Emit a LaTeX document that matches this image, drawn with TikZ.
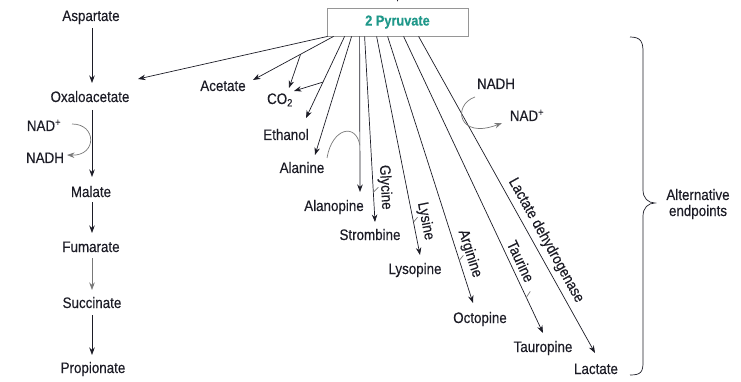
\documentclass[tikz,border=0pt]{standalone}
\usepackage{fontspec}
\setmainfont{Liberation Sans}[FakeStretch=0.88, FakeBold=0.3]
\usetikzlibrary{arrows.meta,calc}
\definecolor{txt}{RGB}{28,28,38}
\definecolor{teal2}{RGB}{32,152,138}
\definecolor{boxgray}{RGB}{150,150,150}
\definecolor{lgray}{RGB}{120,120,120}
\begin{document}
\begin{tikzpicture}[x=1pt,y=-1pt,
  lbl/.style={font=\fontsize{15.2}{18}\selectfont, text=txt, inner sep=0pt, anchor=base},
  rlbl/.style={font=\fontsize{15.2}{18}\selectfont, text=txt, inner sep=0pt, sloped, above=4.5pt},
  arr/.style={draw=txt, line width=0.7pt, -{Stealth[length=7.5pt,width=5.5pt]}},
  garr/.style={arr, draw=lgray},
  gline/.style={draw=lgray, line width=0.7pt},
  ln/.style={draw=txt, line width=0.7pt}]
\useasboundingbox (0,0) rectangle (741,382);

% left column
\node[lbl] (asp) at (91,21) {Aspartate};
\node[lbl] (oxa) at (90,102) {Oxaloacetate};
\node[lbl] (nadpL) at (44,131) {NAD\textsuperscript{+}};
\node[lbl] (nadhL) at (45,163) {NADH};
\node[lbl] (mal) at (91,197) {Malate};
\node[lbl] (fum) at (91,252) {Fumarate};
\node[lbl] (suc) at (92,308) {Succinate};
\node[lbl] (pro) at (93,373) {Propionate};

\draw[arr] ($(asp.base)+(1,7)$) -- ($(oxa.base)+(2,-19)$);
\draw[arr] ($(oxa.base)+(2,8)$) -- ($(mal.base)+(1,-20)$);
\draw[arr] ($(mal.base)+(1,5)$) -- ($(fum.base)+(1,-19)$);
\draw[garr] ($(fum.base)+(1,6)$) -- ($(suc.base)+(0,-18)$);
\draw[arr] ($(suc.base)+(0,7)$) -- ($(pro.base)+(-1,-18)$);
\draw[garr] ($(nadpL.base)+(28,-7)$) .. controls +(25,0) and +(30,1) .. ($(nadhL.base)+(22,-8)$);

% pyruvate box
\node[draw=boxgray, line width=0.8pt, minimum width=141pt, minimum height=28pt, inner sep=0pt,
      font=\fontsize{14.5}{16}\selectfont\bfseries, text=teal2] (pyr) at (397.5,22) {2 Pyruvate};
\coordinate (topin) at (397.5,-14);
\draw[arr] (topin) -- ($(pyr.north)+(0,-6)$);

\coordinate (s0) at ($(pyr.south west)+(1,0)$);
\coordinate (s1) at ($(pyr.south west)+(7,0)$);
\coordinate (s2) at ($(pyr.south west)+(18,0)$);
\coordinate (s3) at ($(pyr.south west)+(25,0)$);
\coordinate (s4) at ($(pyr.south west)+(33,0)$);
\coordinate (s5) at ($(pyr.south west)+(38,0)$);
\coordinate (s6) at ($(pyr.south west)+(50,0)$);
\coordinate (s7) at ($(pyr.south west)+(61,0)$);
\coordinate (s8) at ($(pyr.south west)+(77,0)$);
\coordinate (s9) at ($(pyr.south west)+(92,0)$);

% endpoints
\node[lbl] (ace) at (223,91) {Acetate};
\node[lbl] (co2) at (280,104) {CO\textsubscript{2}};
\node[lbl] (eth) at (286,140) {Ethanol};
\node[lbl] (ala) at (302,173) {Alanine};
\node[lbl] (alp) at (334,211) {Alanopine};
\node[lbl] (str) at (370,240) {Strombine};
\node[lbl] (lys) at (415,274) {Lysopine};
\node[lbl] (oct) at (480,323) {Octopine};
\node[lbl] (tau) at (543,352) {Tauropine};
\node[lbl] (lac) at (596,374) {Lactate};
\node[lbl] (nadhR) at (496,89) {NADH};
\node[lbl] (nadpR) at (527,121) {NAD\textsuperscript{+}};

\draw[arr] (s0) -- ($(oxa.base)+(48,-23)$);
\draw[arr] (s1) -- ($(ace.base)+(30,-11)$) coordinate[pos=.41] (b1);
\draw[arr] (b1) -- ($(co2.base)+(9,-16)$);
\draw[arr] (s2) -- ($(eth.base)+(20,-22)$) coordinate[pos=.56] (b2);
\draw[arr] (b2) -- ($(co2.base)+(14,-13)$);
\draw[arr] (s3) -- ($(ala.base)+(13,-18)$);
\draw[arr] (s4) -- ($(alp.base)+(26,-19)$) coordinate[pos=.70] (b3);
\draw[gline] ($(ala.base)+(25,-15)$) .. controls +(5,-30) and +(-4,-23) .. (b3);

\draw[arr] (s5) -- ($(str.base)+(5,-18)$) node[rlbl,pos=.817] {Glycine} coordinate[pos=.84] (k1);
\draw[gline] (k1) -- ++(5,-5);
\draw[arr] (s6) -- ($(lys.base)+(5,-19)$) node[rlbl,pos=.856] {Lysine} coordinate[pos=.85] (k2);
\draw[gline] (k2) -- ++(4,-5);
\draw[arr] (s7) -- ($(oct.base)+(-7,-20)$) node[rlbl,pos=.829] {Arginine} coordinate[pos=.84] (k3);
\draw[gline] (k3) -- ++(4,-5);
\draw[arr] (s8) -- ($(tau.base)+(0,-19)$) node[rlbl,pos=.773] {Taurine} coordinate[pos=.88] (k4);
\draw[gline] (k4) -- ++(4,-6);
\draw[arr] (s9) -- ($(lac.base)+(-1,-21)$) node[rlbl,pos=.663] {Lactate dehydrogenase};

\draw[garr] ($(nadhR.base)+(-21,8)$) .. controls +(-23,8) and +(-44,17) .. ($(nadpR.base)+(-25,2)$);

% brace
\draw[ln] (630,37) .. controls (641,37) and (643,42) .. (643,52) -- (643,190)
  .. controls (643,198) and (648,203) .. (655,203)
  .. controls (648,203) and (643,208) .. (643,216) -- (643,362)
  .. controls (643,372) and (641,375) .. (630,375);
\node[lbl] (alt1) at (698,200) {Alternative};
\node[lbl] (alt2) at (698,216) {endpoints};
\end{tikzpicture}
\end{document}
